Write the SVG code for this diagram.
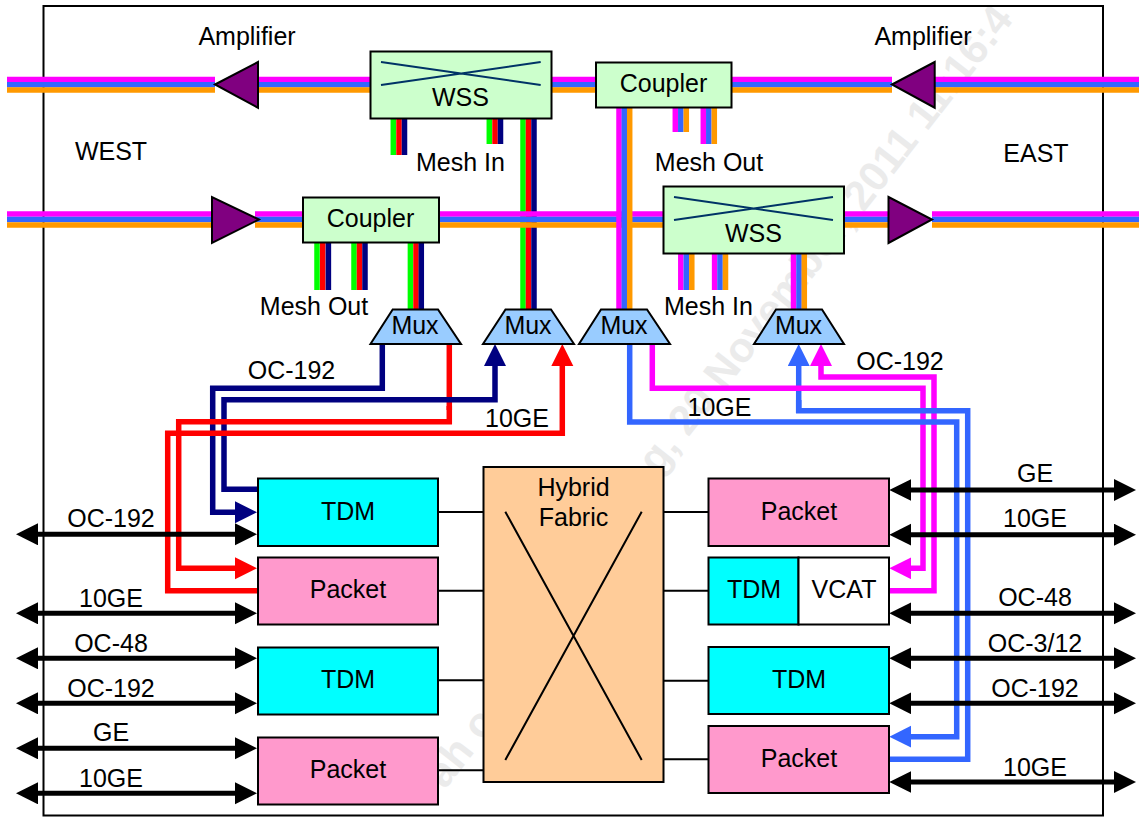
<svg xmlns="http://www.w3.org/2000/svg" width="1140" height="817" viewBox="0 0 1140 817">
<style>
text{font-family:"Liberation Sans",Arial,sans-serif;font-size:25px;fill:#000;text-anchor:middle}
text.wm{font-size:42px;fill:#ebebeb;font-weight:bold;text-anchor:start}
.box{stroke:#000;stroke-width:2}
.g{fill:#ccffcc}.c{fill:#00ffff}.p{fill:#ff99cc}.m{fill:#99ccff}.h{fill:#ffcc99}.w{fill:#ffffff}
.thin{stroke:#000;stroke-width:2;fill:none}
.x{stroke:#003366;stroke-width:2;fill:none}
.amp{fill:#800080;stroke:#000;stroke-width:2}
.f{fill:none;stroke-width:5.5}
.mg{stroke:#ff00ff}.bl{stroke:#3366ff}.or{stroke:#ff9900}.gr{stroke:#00ff00}.rd{stroke:#ff0000}.nv{stroke:#000080}
.wire{fill:none;stroke-width:5.500}
.k{stroke:#000;stroke-width:5;fill:none;marker-start:url(#ak);marker-end:url(#ak)}
</style>
<defs>
<marker id="ak" markerUnits="userSpaceOnUse" markerWidth="24" markerHeight="24" refX="10" refY="11" orient="auto-start-reverse"><path d="M0 0L22 11L0 22Z" fill="#000"/></marker>
<marker id="an" markerUnits="userSpaceOnUse" markerWidth="24" markerHeight="24" refX="10" refY="11" orient="auto"><path d="M0 0L22 11L0 22Z" fill="#000080"/></marker>
<marker id="ar" markerUnits="userSpaceOnUse" markerWidth="24" markerHeight="24" refX="10" refY="11" orient="auto"><path d="M0 0L22 11L0 22Z" fill="#ff0000"/></marker>
<marker id="ab" markerUnits="userSpaceOnUse" markerWidth="24" markerHeight="24" refX="10" refY="11" orient="auto"><path d="M0 0L22 11L0 22Z" fill="#3366ff"/></marker>
<marker id="am" markerUnits="userSpaceOnUse" markerWidth="24" markerHeight="24" refX="10" refY="11" orient="auto"><path d="M0 0L22 11L0 22Z" fill="#ff00ff"/></marker>
</defs>
<rect width="1140" height="817" fill="#ffffff"/>
<g id="watermark">
<text class="wm" transform="translate(445 790) rotate(-52)">ah o</text>
<text class="wm" transform="translate(658 476) rotate(-52)">g, 20 November, 2011 11:16:4</text>
</g>
<rect id="frame" x="43.500" y="6" width="1059.500" height="809.500" fill="none" stroke="#000" stroke-width="2"/>
<g id="connectors">
<g id="vertical-fibres-west">
<path class="f gr" d="M393.300 118V155M489.300 118V144M523 118V309M317 242V290M354 242V290M410.400 242V309"/>
<path class="f rd" d="M399 118V155M495 118V144M528.500 118V309M322.700 242V290M359.500 242V290M416 242V309"/>
<path class="f nv" d="M404.500 118V155M500.500 118V144M534 118V309M328.400 242V290M365 242V290M421.300 242V309"/>
</g>
<g id="horizontal-fibres">
<path class="f mg" d="M7 79.500H215M258 79.500H370M551 79.500H596M731 79.500H892M935 79.500H1139M7 214H212M255 214H303M439 214H663.500M844 214H888.500M932 214H1139"/>
<path class="f bl" d="M7 84.800H215M258 84.800H370M551 84.800H596M731 84.800H892M935 84.800H1139M7 219.500H212M255 219.500H303M439 219.500H663.500M844 219.500H888.500M932 219.500H1139"/>
<path class="f or" d="M7 90H215M258 90H370M551 90H596M731 90H892M935 90H1139M7 225H212M255 225H303M439 225H663.500M844 225H888.500M932 225H1139"/>
</g>
<g id="vertical-fibres-east">
<path class="f mg" d="M675.300 107V132M703.300 107V144M619 107V309M680.800 253V290M714.600 253V290M793.500 253V309"/>
<path class="f bl" d="M680.800 107V132M708.800 107V144M624.300 107V309M686.300 253V290M720 253V290M799 253V309"/>
<path class="f or" d="M686.300 107V132M714.300 107V144M629.700 107V309M691.800 253V290M725.500 253V290M804.300 253V309"/>
</g>
<g id="client-wires">
<path class="wire rd" d="M449.300 344V410"/>
<path class="wire nv" d="M382.300 344V388.300H212.700V512.300H245" marker-end="url(#an)"/>
<path class="wire nv" d="M257.500 489.300H224V399.700H495V356" marker-end="url(#an)"/>
<path class="wire rd" d="M449.300 406V421.700H178.700V568.300H245" marker-end="url(#ar)"/>
<path class="wire rd" d="M257.500 590.700H167.700V433.300H562.300V356" marker-end="url(#ar)"/>
<path class="wire bl" d="M798.700 413V356" marker-end="url(#ab)"/>
<path class="wire mg" d="M652.300 344V388.300H923V568.300H901.300" marker-end="url(#am)"/>
<path class="wire mg" d="M889.300 590.700H934V377H821V356" marker-end="url(#am)"/>
<path class="wire bl" d="M629.700 344V422H956.700V736.700H901.300" marker-end="url(#ab)"/>
<path class="wire bl" d="M889.300 759.300H967.700V410.700H798.700V400"/>
</g>
<g id="client-ports">
<path class="k" d="M28 534.300H245"/>
<path class="k" d="M28 613.300H245"/>
<path class="k" d="M28 658.300H245"/>
<path class="k" d="M28 703.300H245"/>
<path class="k" d="M28 748.300H245"/>
<path class="k" d="M28 793.300H245"/>
<path class="k" d="M901.300 490H1124"/>
<path class="k" d="M901.300 534.700H1124"/>
<path class="k" d="M901.300 613.300H1124"/>
<path class="k" d="M901.300 658.300H1124"/>
<path class="k" d="M901.300 703.300H1124"/>
<path class="k" d="M901.300 782H1124"/>
</g>
<g id="fabric-links">
<path class="thin" d="M438 512H483M438 590.700H483M438 680.300H483M438 770.300H483M664 512H708M664 590.700H708M664 680.700H708M664 759.300H708"/>
</g>
</g>
<g id="amp-west-top"><polygon class="amp" points="215,84.500 258,62 258,107.700"/></g>
<g id="amp-east-top"><polygon class="amp" points="892,84.500 934.700,62 934.700,107.700"/></g>
<g id="amp-west-bottom"><polygon class="amp" points="212,197 212,243 259,219.500"/></g>
<g id="amp-east-bottom"><polygon class="amp" points="888.500,197 888.500,243 932,219.500"/></g>
<g id="wss-top"><rect class="box g" x="370.500" y="51.500" width="181" height="67"/><path class="x" d="M381 62L540.700 85M381 85L540.700 62"/><text x="460.500" y="106">WSS</text></g>
<g id="coupler-top"><rect class="box g" x="596" y="62.500" width="135.500" height="45"/><text x="663.500" y="92">Coupler</text></g>
<g id="coupler-bottom"><rect class="box g" x="303" y="197.500" width="136" height="45"/><text x="370.500" y="227">Coupler</text></g>
<g id="wss-bottom"><rect class="box g" x="663.500" y="186.500" width="180.500" height="67"/><path class="x" d="M674 197L833 220M674 220L833 197"/><text x="753.500" y="241.500">WSS</text></g>
<g id="mux-1"><polygon class="box m" points="392.700,309.500 438,309.500 461,344 370.500,344"/><text x="415" y="334">Mux</text></g>
<g id="mux-2"><polygon class="box m" points="505.500,309.500 551,309.500 574,344 483,344"/><text x="528" y="334">Mux</text></g>
<g id="mux-3"><polygon class="box m" points="601,309.500 647,309.500 670,344 579,344"/><text x="624" y="334">Mux</text></g>
<g id="mux-4"><polygon class="box m" points="776,309.500 822,309.500 844,344 754,344"/><text x="798.500" y="334">Mux</text></g>
<g id="tdm-l1"><rect class="box c" x="258" y="478.500" width="180" height="67.500"/><text x="348" y="520">TDM</text></g>
<g id="packet-l1"><rect class="box p" x="258" y="557.500" width="180" height="67"/><text x="348" y="598">Packet</text></g>
<g id="tdm-l2"><rect class="box c" x="258" y="647.500" width="180" height="67"/><text x="348" y="688">TDM</text></g>
<g id="packet-l2"><rect class="box p" x="258" y="737.500" width="180" height="67"/><text x="348" y="778">Packet</text></g>
<g id="hybrid-fabric"><rect class="box h" x="483.500" y="467" width="180" height="315"/><path class="thin" d="M505.300 511.700L641.700 760M641.700 511.700L505.300 760"/><text x="573.500" y="496">Hybrid</text><text x="573.500" y="526">Fabric</text></g>
<g id="packet-r1"><rect class="box p" x="708.500" y="478.500" width="180.500" height="67.500"/><text x="799" y="520">Packet</text></g>
<g id="tdm-vcat"><rect class="box c" x="708.500" y="557.500" width="90" height="67"/><rect class="box w" x="798.500" y="557.500" width="90.500" height="67"/><text x="754" y="598">TDM</text><text x="844" y="598">VCAT</text></g>
<g id="tdm-r2"><rect class="box c" x="708.500" y="647" width="180.500" height="67"/><text x="799" y="688">TDM</text></g>
<g id="packet-r2"><rect class="box p" x="708.500" y="726" width="180.500" height="67"/><text x="799" y="767">Packet</text></g>
<g id="labels">
<text x="247" y="45">Amplifier</text><text x="923" y="45">Amplifier</text>
<text x="111" y="160">WEST</text><text x="1036" y="162">EAST</text>
<text x="460.500" y="171">Mesh In</text><text x="709" y="171">Mesh Out</text>
<text x="314" y="315">Mesh Out</text><text x="708.500" y="315">Mesh In</text>
<text x="291.500" y="379">OC-192</text><text x="517" y="427">10GE</text>
<text x="900" y="370">OC-192</text><text x="719.500" y="416">10GE</text>
<text x="111" y="527">OC-192</text><text x="111" y="607">10GE</text><text x="111" y="652">OC-48</text><text x="111" y="697">OC-192</text><text x="111" y="741">GE</text><text x="111" y="787">10GE</text>
<text x="1035" y="482">GE</text><text x="1035" y="527">10GE</text><text x="1035" y="606">OC-48</text><text x="1035" y="652">OC-3/12</text><text x="1035" y="697">OC-192</text><text x="1035" y="776">10GE</text>
</g>
</svg>
